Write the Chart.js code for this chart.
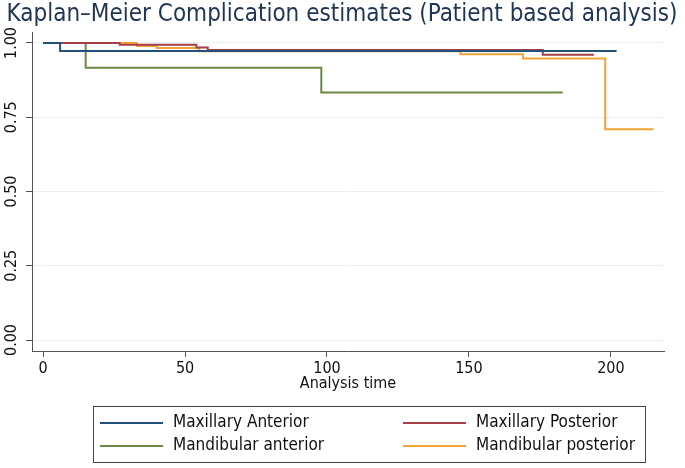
<!DOCTYPE html>
<html>
<head>
<meta charset="utf-8">
<script src="https://cdn.jsdelivr.net/npm/chart.js@4/dist/chart.umd.min.js"></script>
<style>
  body { margin: 0; background: #fff; }
  canvas { display: block; }
</style>
</head>
<body>
<canvas id="km" width="685" height="468"></canvas>
<script>
// Kaplan-Meier step data
var maxAntTime = [0, 6, 202];
var maxAntSurv = [1, 0.973, 0.973];
var maxPostTime = [0, 27, 54, 58, 176, 194];
var maxPostSurv = [1, 0.994, 0.985, 0.976, 0.96, 0.96];
var mandAntTime = [0, 15, 98, 183];
var mandAntSurv = [1, 0.917, 0.833, 0.833];
var mandPostTime = [0, 33, 40, 55, 147, 169, 198, 215];
var mandPostSurv = [1, 0.99, 0.983, 0.972, 0.962, 0.948, 0.71, 0.71];

var seriesNames = ['Maxillary Anterior', 'Maxillary Posterior', 'Mandibular anterior', 'Mandibular posterior'];
var xTicks = [0, 50, 100, 150, 200];
var yTicks = [0, 0.25, 0.5, 0.75, 1];
var titleText = 'Kaplan\u2013Meier Complication estimates (Patient based analysis)';
var xTitle = 'Analysis time';

var colors = ['#24507c', '#a63f4a', '#6a8a43', '#f4a236'];
var FONT = '"DejaVu Sans Condensed", "DejaVu Sans", sans-serif';

function pts(t, s) {
    return t.map(function (v, i) { return {x: v, y: s[i]}; });
}

var dataSets = [
    pts(maxAntTime, maxAntSurv),
    pts(maxPostTime, maxPostSurv),
    pts(mandAntTime, mandAntSurv),
    pts(mandPostTime, mandPostSurv)
];

// title, rotated y labels and the boxed legend
var decor = {
    id: 'decor',
    afterDraw: function (chart) {
        var c = chart.ctx;
        c.save();
        c.fillStyle = '#1f3552';
        c.font = '24px ' + FONT;
        c.textAlign = 'center';
        c.textBaseline = 'middle';
        c.fillText(titleText, 342, 15);

        var ys = chart.scales.y;
        c.fillStyle = '#111';
        c.font = '16px ' + FONT;
        yTicks.forEach(function (v) {
            c.save();
            c.translate(12, ys.getPixelForValue(v));
            c.rotate(-Math.PI / 2);
            c.fillText(v.toFixed(2), 0, 0);
            c.restore();
        });

        c.strokeStyle = '#444';
        c.lineWidth = 1;
        c.strokeRect(93.5, 406.5, 552, 56);
        var cols = [[100, 173], [403, 476]];
        var rows = [423, 446];
        c.textAlign = 'left';
        c.font = '17px ' + FONT;
        seriesNames.forEach(function (name, k) {
            var col = cols[k % 2], row = rows[Math.floor(k / 2)];
            c.strokeStyle = colors[k];
            c.lineWidth = 2;
            c.beginPath();
            c.moveTo(col[0], row);
            c.lineTo(col[0] + 63, row);
            c.stroke();
            c.fillStyle = '#111';
            c.fillText(name, col[1], row);
        });
        c.restore();
    }
};

var ctx = document.getElementById('km').getContext('2d');
var kmChart = new Chart(ctx, {
    type: 'line',
    data: {
        datasets: dataSets.map(function (d, i) {
            return {
                label: seriesNames[i],
                data: d,
                stepped: true,
                borderColor: colors[i],
                borderWidth: 2,
                pointRadius: 0,
                fill: false
            };
        })
    },
    options: {
        responsive: false,
        animation: false,
        devicePixelRatio: 1,
        layout: { padding: { top: 32, right: 21, bottom: 72, left: 0 } },
        plugins: {
            legend: { display: false },
            tooltip: { enabled: false }
        },
        scales: {
            x: {
                type: 'linear',
                min: -3.9,
                max: 218.7,
                afterBuildTicks: function (s) { s.ticks = xTicks.map(function (v) { return {value: v}; }); },
                afterFit: function (s) { s.height = 45; },
                grid: { drawOnChartArea: false, drawTicks: true, tickLength: 6, tickColor: '#555' },
                border: { color: '#555', width: 1 },
                ticks: { color: '#111', font: { family: FONT, size: 16 }, padding: 2, maxRotation: 0 },
                title: { display: true, text: xTitle, color: '#111', font: { family: FONT, size: 16 }, padding: { top: 0, bottom: 3 } }
            },
            y: {
                min: -0.037,
                max: 1.037,
                afterBuildTicks: function (s) { s.ticks = yTicks.map(function (v) { return {value: v}; }); },
                afterFit: function (s) { s.width = 32; },
                grid: { color: '#e8f0f2', lineWidth: 1, drawTicks: true, tickLength: 6, tickColor: '#555' },
                border: { color: '#555', width: 1 },
                ticks: { color: 'rgba(0,0,0,0)', font: { family: FONT, size: 15 } }
            }
        }
    },
    plugins: [decor]
});
</script>
</body>
</html>
